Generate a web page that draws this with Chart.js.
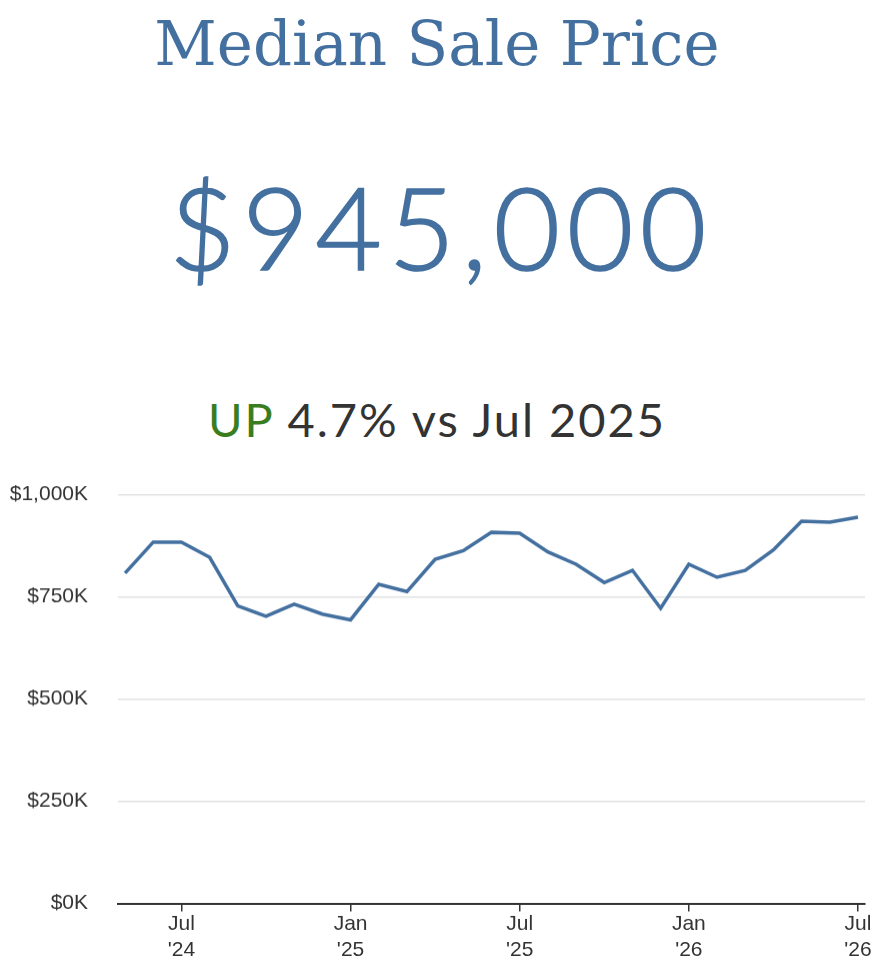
<!DOCTYPE html>
<html>
<head>
<meta charset="utf-8">
<script src="https://cdn.jsdelivr.net/npm/chart.js@4.4.1/dist/chart.umd.min.js"></script>
<style>
  html, body { margin: 0; padding: 0; background: #fff; }
  #wrap { position: relative; width: 880px; height: 964px; overflow: hidden; }
  #head { position: absolute; left: 0; top: 0; }
  #cbox { position: absolute; left: 0; top: 452.4px; width: 880px; height: 511.6px; }
</style>
</head>
<body>
<script>
// ---- data ----
const months = ["2024-05","2024-06","2024-07","2024-08","2024-09","2024-10","2024-11","2024-12",
                "2025-01","2025-02","2025-03","2025-04","2025-05","2025-06","2025-07","2025-08",
                "2025-09","2025-10","2025-11","2025-12","2026-01","2026-02","2026-03","2026-04",
                "2026-05","2026-06","2026-07"];
const medianPriceK = [808, 884, 884, 847, 728, 703, 732, 708,
                      694, 781, 763, 842, 863, 908, 906, 860,
                      830, 785, 815, 722, 830, 798, 815, 865,
                      935, 933, 945];
const tickMonths = ["2024-07","2025-01","2025-07","2026-01","2026-07"];
const tickLabels = [["Jul","'24"],["Jan","'25"],["Jul","'25"],["Jan","'26"],["Jul","'26"]];
const yTicksK = [0, 250, 500, 750, 1000];
const titleText = "Median Sale Price";
const headlineValue = "$945,000";
const changeWord = "UP";
const changeText = " 4.7% vs Jul 2025";
</script>
<div id="wrap">
  <svg id="head" width="880" height="450" xmlns="http://www.w3.org/2000/svg">
    <text id="t1" x="437" y="65" text-anchor="middle" fill="#4470a0"
          font-family="DejaVu Serif" font-size="61"></text>
    <text id="t2" x="441" y="270" text-anchor="middle" fill="#4470a0" stroke="#4470a0" stroke-width="1.6"
          font-family="Lato" font-weight="300" font-size="115" letter-spacing="6.5"></text>
    <text id="t3" x="437" y="437" text-anchor="middle" fill="#333333"
          font-family="Lato" font-size="47" letter-spacing="2"><tspan id="t3a" fill="#3a7d1e"></tspan><tspan id="t3b"></tspan></text>
  </svg>
  <div id="cbox"><canvas id="c"></canvas></div>
</div>
<script>
document.getElementById('t1').textContent = titleText;
document.getElementById('t2').textContent = headlineValue;
document.getElementById('t3a').textContent = changeWord;
document.getElementById('t3b').textContent = changeText;

const points = medianPriceK.map((v, i) => ({ x: i, y: v }));
const tickIdx = tickMonths.map(m => months.indexOf(m));

new Chart(document.getElementById('c'), {
  type: 'line',
  data: {
    datasets: [{
      data: points,
      borderColor: '#4470a0',
      borderWidth: 3.5,
      pointRadius: 0,
      tension: 0,
      fill: false
    }]
  },
  options: {
    responsive: true,
    maintainAspectRatio: false,
    animation: false,
    layout: { padding: { top: 0, right: 15, left: 0, bottom: 0 } },
    plugins: { legend: { display: false }, tooltip: { enabled: false } },
    scales: {
      x: {
        type: 'linear',
        min: -0.25,
        max: months.length - 0.75,
        afterBuildTicks: (s) => { s.ticks = tickIdx.map(v => ({ value: v })); },
        afterFit: (s) => { s.height = 61; },
        border: { display: true, color: '#333333', width: 2 },
        grid: { drawOnChartArea: false, drawTicks: true, tickLength: 8, color: '#333333', lineWidth: 1.5 },
        ticks: {
          autoSkip: false,
          maxRotation: 0,
          padding: 0,
          color: '#333333',
          font: { family: 'Liberation Sans', size: 21, lineHeight: 1.24 },
          callback: (v) => { const k = tickIdx.indexOf(v); return k >= 0 ? tickLabels[k] : ''; }
        }
      },
      y: {
        min: 0,
        max: 1000,
        afterBuildTicks: (s) => { s.ticks = yTicksK.map(v => ({ value: v })); },
        afterFit: (s) => { s.width = 118; },
        border: { display: false },
        grid: { color: '#e2e2e2', lineWidth: 1.5, drawTicks: false },
        ticks: {
          padding: 30,
          color: '#333333',
          font: { family: 'Liberation Sans', size: 21 },
          callback: (v) => '$' + v.toLocaleString('en-US') + 'K'
        }
      }
    }
  }
});
</script>
</body>
</html>
